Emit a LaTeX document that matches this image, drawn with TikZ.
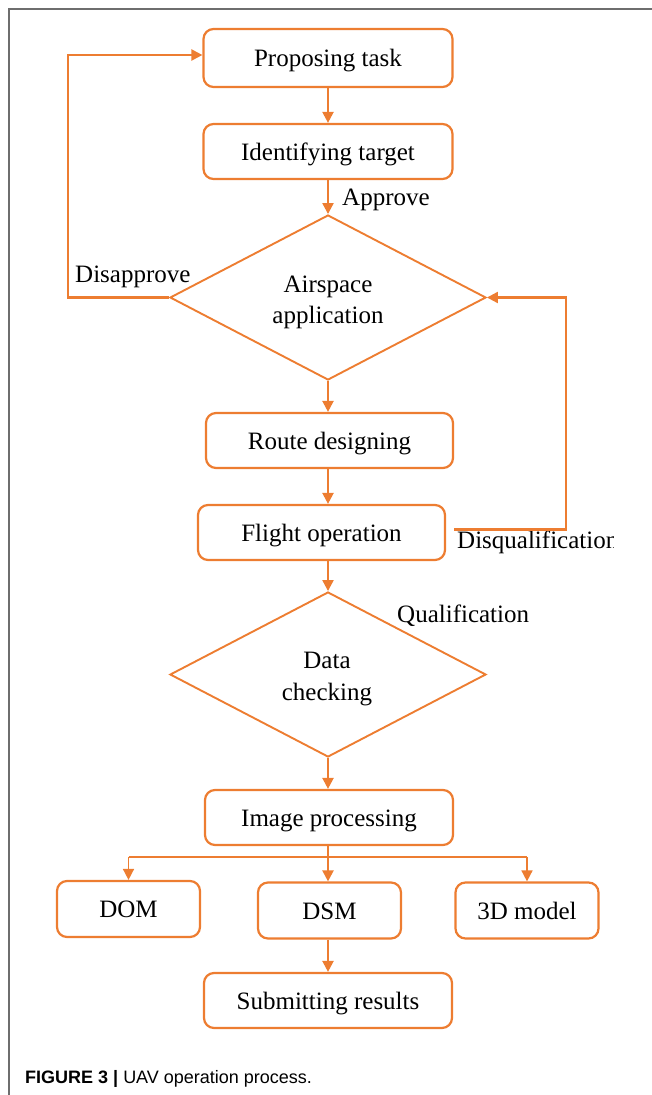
\documentclass[tikz,border=0pt]{standalone}
\usepackage{fontspec}
\setmainfont{Liberation Serif}
\setsansfont{Liberation Sans}
\usetikzlibrary{shapes.geometric,arrows.meta}
\definecolor{flow}{HTML}{ED7D31}
\definecolor{framegray}{HTML}{6E6E6E}
\begin{document}
\begin{tikzpicture}[x=1pt,y=-1pt,
  box/.style={draw=flow,line width=2.2pt,rounded corners=10pt,fill=white,inner sep=0pt,
    text height=20pt,text depth=3pt,font=\fontsize{25}{30}\selectfont},
  dia/.style={draw=flow,line width=1.9pt,diamond,inner sep=0pt,
    minimum width=316pt,minimum height=165pt},
  arr/.style={draw=flow,line width=2.2pt,-{Triangle[length=11pt,width=11pt]}},
  lbl/.style={font=\fontsize{25}{30}\selectfont,inner sep=0pt,anchor=base west},
  ctr/.style={font=\fontsize{25}{30}\selectfont,inner sep=0pt,anchor=base},
]
\path[use as bounding box] (0,0) rectangle (652,1095);
\draw[framegray,line width=1.5pt] (9,1095) -- (9,9) -- (652,9);

% nodes
\node[box,minimum width=249pt,minimum height=58pt] (prop) at (328,58) {Proposing task};
\node[box,minimum width=249pt,minimum height=55pt] (ident) at (328,151.5) {Identifying target};
\node[dia] (air) at (328,297.5) {};
\node[ctr] (airA) at (328,292) {Airspace};
\node[ctr] (airB) at (328,323) {application};
\node[box,minimum width=247pt,minimum height=55pt] (route) at (329.5,440.5) {Route designing};
\node[box,minimum width=247pt,minimum height=55pt] (flight) at (321.5,532.5) {Flight operation};
\node[dia] (data) at (328,674.5) {};
\node[ctr] (dataA) at (327,668) {Data};
\node[ctr] (dataB) at (327,700) {checking};
\node[box,minimum width=248pt,minimum height=55pt] (image) at (329,817.5) {Image processing};
\node[box,minimum width=143pt,minimum height=56pt] (dom) at (128.5,909) {DOM};
\node[box,minimum width=143pt,minimum height=56pt] (dsm) at (329.5,910.5) {DSM};
\node[box,minimum width=143pt,minimum height=56pt] (tdm) at (527,910.5) {3D model};
\node[box,minimum width=248pt,minimum height=55pt] (submit) at (328,1000.5) {Submitting results};

% labels
\node[lbl] (appr) at (342,205) {Approve};
\node[lbl] (disap) at (75,282) {Disapprove};
\node[lbl] (qual) at (397,622) {Qualification};
\begin{scope}
  \clip (450,520) rectangle (613,565);
  \node[lbl] (disq) at (457,548) {Disqualification};
\end{scope}

% main flow
\draw[arr] (prop.south) -- (ident.north);
\draw[arr] (ident.south) -- (air.north);
\draw[arr] (air.south) -- (air.south |- route.north);
\draw[arr] (route.south -| air.south) -- (air.south |- flight.north);
\draw[arr] (flight.south -| data.north) -- (data.north);
\draw[arr] (data.south) -- (data.south |- image.north);
\draw[arr] (image.south -| data.south) -- (data.south |- dsm.north);
\draw[arr] (dsm.south -| data.south) -- (data.south |- submit.north);

% branches
\coordinate (br) at (0,857);
\draw[flow,line width=1.6pt] (dom.north |- br) -- (tdm.north |- br);
\draw[arr,line width=1.6pt] (dom.north |- br) -- (dom.north);
\draw[arr,line width=1.6pt] (tdm.north |- br) -- (tdm.north);

% loops
\coordinate (lx) at (68,0);
\draw[arr] (air.west) -- (air.west -| lx) |- ([yshift=3pt]prop.west);
\coordinate (rx) at (566,0);
\coordinate (fs) at ([xshift=8pt,yshift=3pt]flight.east);
\draw[arr] (fs) -- (fs -| rx) |- (air.east);

% caption
\node[anchor=base west,inner sep=0pt,font=\sffamily\fontsize{18}{22}\selectfont] (cap)
  at (25,1083) {\textbf{FIGURE 3 |} UAV operation process.};
\end{tikzpicture}
\end{document}
